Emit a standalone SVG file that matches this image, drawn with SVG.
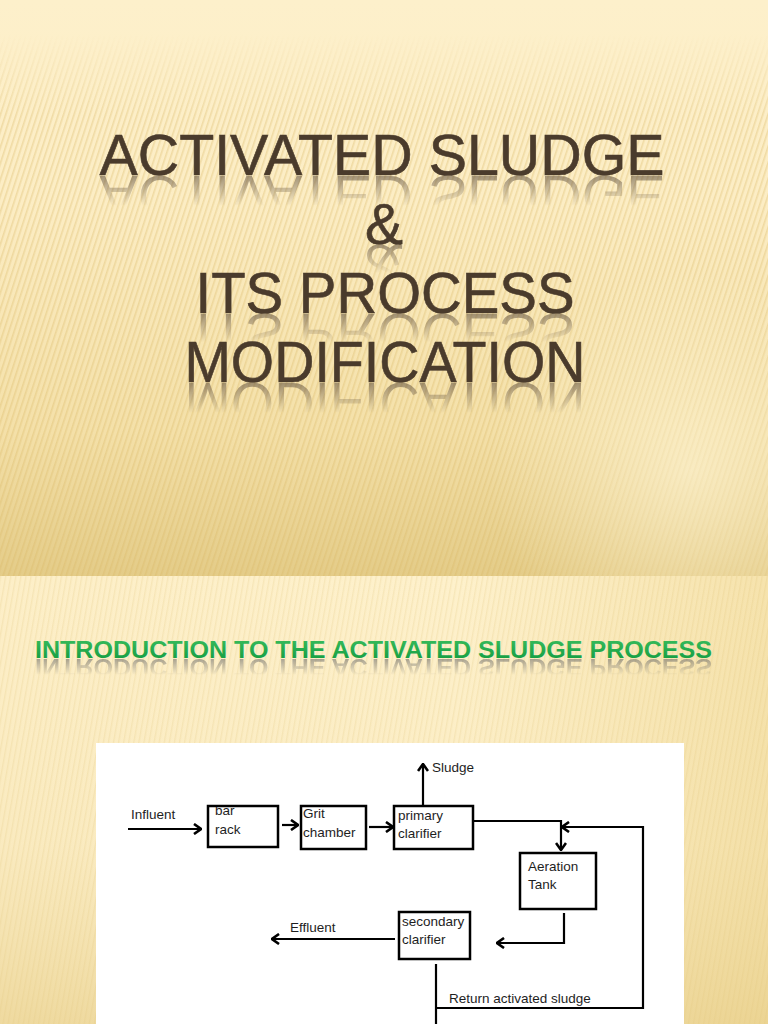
<svg xmlns="http://www.w3.org/2000/svg" width="768" height="1024" viewBox="0 0 768 1024">
<style>
.title{font-family:"Liberation Sans",Arial,sans-serif;font-size:57px;fill:#4A3B2C;text-anchor:middle;stroke:#4A3B2C;stroke-width:0.6}
.refl{fill:#5A4A3A}
.sub{font-family:"Liberation Sans",Arial,sans-serif;font-size:24px;font-weight:bold}
.lbl{font-family:"Liberation Sans",Arial,sans-serif;font-size:13.5px;fill:#1E1E1E}
.box{fill:#FFFFFF;stroke:#000;stroke-width:2.5}
.wire{fill:none;stroke:#000;stroke-width:2.2}
</style>
<defs>
<linearGradient id="bg1" x1="0" y1="0" x2="0" y2="1">
<stop offset="0" stop-color="#FDF0CB"/>
<stop offset="0.35" stop-color="#FCEDC4"/>
<stop offset="0.75" stop-color="#F4E0A8"/>
<stop offset="1" stop-color="#E4CC88"/>
</linearGradient>
<radialGradient id="glow1" cx="690" cy="470" r="200" gradientUnits="userSpaceOnUse">
<stop offset="0" stop-color="#FFF6D8" stop-opacity="0.6"/>
<stop offset="1" stop-color="#FFF6D8" stop-opacity="0"/>
</radialGradient>
<linearGradient id="bg2" x1="0" y1="0" x2="1" y2="0">
<stop offset="0" stop-color="#FDEFC8"/>
<stop offset="0.6" stop-color="#FEF1CC"/>
<stop offset="1" stop-color="#F6E3AD"/>
</linearGradient>
<linearGradient id="bg2v" x1="0" y1="0" x2="0" y2="1">
<stop offset="0" stop-color="#E8D08E" stop-opacity="0"/>
<stop offset="0.6" stop-color="#E8D08E" stop-opacity="0.15"/>
<stop offset="1" stop-color="#E3C87E" stop-opacity="0.55"/>
</linearGradient>
<pattern id="stripes" width="5" height="40" patternUnits="userSpaceOnUse" patternTransform="rotate(18)">
<rect x="0" y="0" width="1.6" height="40" fill="#D9B865" fill-opacity="0.35"/>
</pattern>
<pattern id="stripes2" width="5" height="40" patternUnits="userSpaceOnUse" patternTransform="rotate(10)">
<rect x="0" y="0" width="1.4" height="40" fill="#D9B865" fill-opacity="0.18"/>
</pattern>
<linearGradient id="stripeFade" x1="0" y1="0" x2="0" y2="1">
<stop offset="0" stop-color="#000"/>
<stop offset="0.06" stop-color="#000"/>
<stop offset="0.2" stop-color="#fff"/>
<stop offset="1" stop-color="#fff"/>
</linearGradient>
<mask id="m1" maskUnits="userSpaceOnUse" x="0" y="0" width="768" height="576">
<rect x="0" y="0" width="768" height="576" fill="url(#stripeFade)"/>
</mask>
<linearGradient id="reflFade" x1="0" y1="0" x2="0" y2="1">
<stop offset="0" stop-color="#fff" stop-opacity="0.55"/>
<stop offset="1" stop-color="#fff" stop-opacity="0"/>
</linearGradient>
<mask id="rm1" maskUnits="userSpaceOnUse" x="0" y="0" width="768" height="1024"><rect x="0" y="176" width="768" height="30" fill="url(#reflFade)"/></mask>
<mask id="rm2" maskUnits="userSpaceOnUse" x="0" y="0" width="768" height="1024"><rect x="0" y="245" width="768" height="28" fill="url(#reflFade)"/></mask>
<mask id="rm3" maskUnits="userSpaceOnUse" x="0" y="0" width="768" height="1024"><rect x="0" y="314" width="768" height="28" fill="url(#reflFade)"/></mask>
<mask id="rm4" maskUnits="userSpaceOnUse" x="0" y="0" width="768" height="1024"><rect x="0" y="383" width="768" height="30" fill="url(#reflFade)"/></mask>
<mask id="rm5" maskUnits="userSpaceOnUse" x="0" y="0" width="768" height="1024"><rect x="0" y="659" width="768" height="16" fill="url(#reflFade)"/></mask>
<linearGradient id="green" x1="0" y1="0" x2="0" y2="1">
<stop offset="0" stop-color="#3CBF5E"/>
<stop offset="1" stop-color="#10993F"/>
</linearGradient>
<linearGradient id="orange" x1="0" y1="0" x2="1" y2="0">
<stop offset="0" stop-color="#E49A35" stop-opacity="0"/>
<stop offset="0.25" stop-color="#E49A35" stop-opacity="1"/>
<stop offset="1" stop-color="#E49A35" stop-opacity="1"/>
</linearGradient>
<marker id="chev" viewBox="0 0 10 12" refX="9" refY="6" markerWidth="10" markerHeight="12" markerUnits="userSpaceOnUse" orient="auto">
<path d="M2,1 L9,6 L2,11" fill="none" stroke="#000" stroke-width="2.6"/>
</marker>
<clipPath id="clipBar"><rect x="209" y="807" width="68" height="39"/></clipPath>
<clipPath id="clipGrit"><rect x="302" y="807" width="63" height="41"/></clipPath>
</defs>

<!-- Slide 1 background -->
<rect x="0" y="0" width="768" height="576" fill="url(#bg1)"/>
<rect x="0" y="0" width="768" height="576" fill="url(#stripes)" mask="url(#m1)"/>
<rect x="0" y="0" width="768" height="576" fill="url(#glow1)"/>

<!-- Slide 2 background -->
<rect x="0" y="576" width="768" height="448" fill="url(#bg2)"/>
<rect x="0" y="576" width="768" height="448" fill="url(#stripes2)"/>
<rect x="0" y="576" width="768" height="448" fill="url(#bg2v)"/>

<!-- Title -->
<g id="title">
<text class="title" x="382" y="175" textLength="565" lengthAdjust="spacingAndGlyphs">ACTIVATED SLUDGE</text>
<text class="title" x="384" y="244">&amp;</text>
<text class="title" x="385" y="313" textLength="379" lengthAdjust="spacingAndGlyphs">ITS PROCESS</text>
<text class="title" x="385" y="382" textLength="401" lengthAdjust="spacingAndGlyphs">MODIFICATION</text>
<g class="refl" font-family="Liberation Sans, Arial, sans-serif" font-size="57" text-anchor="middle">
<g mask="url(#rm1)"><text transform="translate(0,352) scale(1,-1)" x="382" y="176" textLength="565" lengthAdjust="spacingAndGlyphs">ACTIVATED SLUDGE</text></g>
<g mask="url(#rm2)"><text transform="translate(0,490) scale(1,-1)" x="384" y="245">&amp;</text></g>
<g mask="url(#rm3)"><text transform="translate(0,628) scale(1,-1)" x="385" y="314" textLength="379" lengthAdjust="spacingAndGlyphs">ITS PROCESS</text></g>
<g mask="url(#rm4)"><text transform="translate(0,766) scale(1,-1)" x="385" y="383" textLength="401" lengthAdjust="spacingAndGlyphs">MODIFICATION</text></g>
</g>
</g>

<!-- Subtitle -->
<g id="subtitle">
<line x1="60" y1="657" x2="768" y2="657" stroke="url(#orange)" stroke-width="2"/>
<g mask="url(#rm5)"><text class="sub" fill="#666" transform="translate(0,1318) scale(1,-1)" x="35" y="659" textLength="677" lengthAdjust="spacingAndGlyphs">INTRODUCTION TO THE ACTIVATED SLUDGE PROCESS</text></g>
<text class="sub" fill="url(#green)" x="35" y="658" textLength="677" lengthAdjust="spacingAndGlyphs">INTRODUCTION TO THE ACTIVATED SLUDGE PROCESS</text>
</g>

<!-- Diagram panel -->
<rect x="96" y="743" width="588" height="281" fill="#FFFFFF"/>

<g id="connectors">
<line class="wire" x1="128" y1="829" x2="201" y2="829" marker-end="url(#chev)"/>
<line class="wire" x1="282" y1="825" x2="298" y2="825" marker-end="url(#chev)"/>
<line class="wire" x1="369" y1="827" x2="393" y2="827" marker-end="url(#chev)"/>
<line class="wire" x1="423" y1="805" x2="423" y2="764" marker-end="url(#chev)"/>
<polyline class="wire" points="473,821 561,821 561,850" marker-end="url(#chev)"/>
<polyline class="wire" points="436,1008 643,1008 643,827 562,827" marker-end="url(#chev)"/>
<polyline class="wire" points="564,913 564,943 497,943" marker-end="url(#chev)"/>
<line class="wire" x1="395" y1="939" x2="272" y2="939" marker-end="url(#chev)"/>
<line class="wire" x1="436" y1="964" x2="436" y2="1024"/>
</g>

<g id="influent"><text class="lbl" x="131" y="819">Influent</text></g>
<g id="bar-rack">
<rect class="box" x="208" y="806" width="70" height="41"/>
<g clip-path="url(#clipBar)"><text class="lbl" x="215" y="815">bar</text></g>
<text class="lbl" x="215" y="834">rack</text>
</g>
<g id="grit-chamber">
<rect class="box" x="301" y="806" width="65" height="43"/>
<g clip-path="url(#clipGrit)"><text class="lbl" x="303" y="818">Grit</text></g>
<text class="lbl" x="303" y="837">chamber</text>
</g>
<g id="primary-clarifier">
<rect class="box" x="394" y="806" width="79" height="43"/>
<text class="lbl" x="398" y="820">primary</text>
<text class="lbl" x="398" y="838">clarifier</text>
</g>
<g id="sludge"><text class="lbl" x="432" y="772">Sludge</text></g>
<g id="aeration-tank">
<rect class="box" x="520" y="853" width="76" height="56"/>
<text class="lbl" x="528" y="871">Aeration</text>
<text class="lbl" x="528" y="889">Tank</text>
</g>
<g id="secondary-clarifier">
<rect class="box" x="399" y="912" width="71" height="47"/>
<text class="lbl" x="402" y="926">secondary</text>
<text class="lbl" x="402" y="944">clarifier</text>
</g>
<g id="effluent"><text class="lbl" x="290" y="932">Effluent</text></g>
<g id="ras"><text class="lbl" x="449" y="1003">Return activated sludge</text></g>
</svg>
